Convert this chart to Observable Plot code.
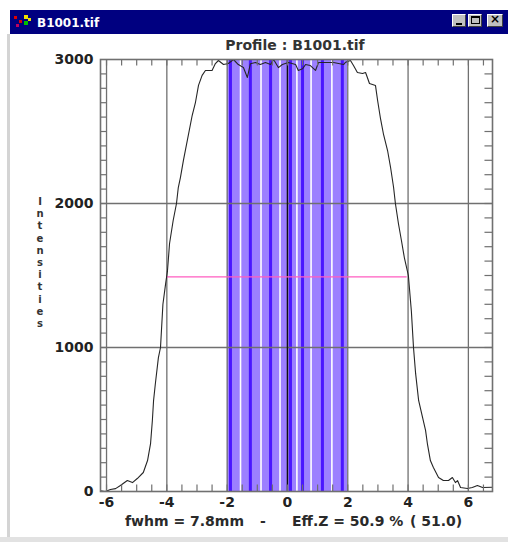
<!DOCTYPE html>
<html>
<head>
<meta charset="utf-8">
<script src="https://cdn.jsdelivr.net/npm/d3@7"></script>
<script src="https://cdn.jsdelivr.net/npm/@observablehq/plot@0.6"></script>
<style>
  html, body { margin: 0; padding: 0; background: #fff; }
  #wrap { position: relative; width: 508px; height: 542px; overflow: hidden; background: #fff; font-family: "DejaVu Sans", sans-serif; }
  .abs { position: absolute; }
  .btn { position: absolute; top: 14px; width: 14px; height: 13px; background: #c0c0c0;
         border-top: 1px solid #fff; border-left: 1px solid #fff; border-right: 1px solid #404040; border-bottom: 1px solid #404040; box-sizing: border-box; }
  .txt { position: absolute; font: bold 14px "DejaVu Sans", sans-serif; color: #2a2a2a; white-space: pre; line-height: 16px; }
</style>
</head>
<body>
<div id="wrap">
  <!-- window chrome -->
  <div class="abs" style="left:10px;top:10px;width:498px;height:24px;background:#000080;"></div>
  <div class="abs" style="left:14px;top:16px;width:3px;height:3px;background:#e00000;"></div>
  <div class="abs" style="left:19px;top:20px;width:3px;height:3px;background:#e00000;"></div>
  <div class="abs" style="left:24px;top:15px;width:4px;height:4px;background:#f0e000;"></div>
  <div class="abs" style="left:24px;top:21px;width:4px;height:4px;background:#00c000;"></div>
  <div class="abs" style="left:28px;top:18px;width:3px;height:3px;background:#f0e000;"></div>
  <div class="abs" style="left:16px;top:24px;width:3px;height:3px;background:#c00060;"></div>
  <div class="abs" style="left:37px;top:15px;color:#fff;font:bold 12px 'DejaVu Sans', sans-serif;line-height:16px;">B1001.tif</div>
  <div class="btn" style="left:452px;"><div class="abs" style="left:3px;top:8px;width:6px;height:2px;background:#000;"></div></div>
  <div class="btn" style="left:468px;"><div class="abs" style="left:2px;top:1px;width:9px;height:8px;border:1px solid #000;border-top-width:2px;box-sizing:border-box;"></div></div>
  <div class="btn" style="left:487px;width:16px;"><div class="abs" style="left:2px;top:-3px;font:bold 12px 'DejaVu Sans';color:#000;">×</div></div>
  <div class="abs" style="left:7px;top:34px;width:3px;height:508px;background:#d4d4d4;"></div>
  <div class="abs" style="left:0px;top:537px;width:508px;height:5px;background:#e2e2e2;"></div>

  <div id="chart" class="abs" style="left:0;top:0;"></div>

  <div class="txt" style="left:0;width:590px;top:37px;text-align:center;color:#333;">Profile : B1001.tif</div>
  <div class="abs" id="ytitle" style="left:33px;top:196px;width:14px;text-align:center;font:bold 10px 'DejaVu Sans', sans-serif;line-height:12.2px;color:#333;"></div>
  <div class="txt" style="left:125px;top:513px;">fwhm = 7.8mm</div>
  <div class="txt" style="left:260px;top:513px;">-</div>
  <div class="txt" style="left:292px;top:513px;">Eff.Z = 50.9 %</div>
  <div class="txt" style="left:410px;top:513px;">( 51.0)</div>
</div>
<script>
// ---- data ----
const xDomain = [-6.2, 6.8];
const yDomain = [0, 3000];
const xTicks = [-6, -4, -2, 0, 2, 4, 6];
const yTicks = [0, 1000, 2000, 3000];
const gridX = [-6, -4, -2, 2, 4, 6];
const gridY = [1000, 2000];
const centerLine = [0];
const minorX = [-6, -5.5, -5, -4.5, -4, -3.5, -3, -2.5, -2, -1.5, -1, -0.5, 0, 0.5, 1, 1.5, 2, 2.5, 3, 3.5, 4, 4.5, 5, 5.5, 6, 6.5];
const minorY = [100, 200, 300, 400, 500, 600, 700, 800, 900, 1000, 1100, 1200, 1300, 1400, 1500, 1600, 1700, 1800, 1900, 2000,
                2100, 2200, 2300, 2400, 2500, 2600, 2700, 2800, 2900];
const yTitle = "Intensities";

// profile curve
const profileX = [-6.2, -6.04, -5.87, -5.70, -5.54, -5.31, -5.14, -4.98, -4.78, -4.64, -4.54, -4.48, -4.44, -4.38, -4.28, -4.21,
  -4.13, -4.04, -3.98, -3.91, -3.79, -3.68, -3.62, -3.55, -3.45, -3.16, -3.05, -2.95, -2.83, -2.72, -2.50, -2.39, -2.29, -2.12,
  -1.96, -1.79, -1.63, -1.46, -1.33, -1.23, -1.06, -0.90, -0.73, -0.56, -0.46, -0.30, -0.17, 0.03, 0.27, 0.36, 0.50, 0.60, 0.76,
  0.93, 1.03, 1.53, 1.86, 1.93, 2.09, 2.19, 2.32, 2.49, 2.59, 2.65, 2.72, 2.92, 2.99, 3.08, 3.18, 3.32, 3.42, 3.52, 3.58, 3.68,
  3.78, 3.88, 4.01, 4.11, 4.18, 4.25, 4.35, 4.48, 4.58, 4.64, 4.74, 4.84, 5.01, 5.17, 5.34, 5.47, 5.57, 5.64, 5.74, 5.97, 6.13,
  6.30, 6.47, 6.80];
const profileY = [5, 0, 14, 20, 42, 76, 62, 90, 132, 215, 333, 493, 632, 750, 930, 1000,
  1300, 1444, 1530, 1722, 1882, 2000, 2111, 2180, 2300, 2611, 2703, 2820, 2890, 2924, 2924, 2972, 2993, 2965,
  2972, 3000, 2965, 2944, 2875, 2970, 2979, 2965, 2979, 2965, 3000, 2944, 2965, 2979, 2965, 2924, 2935, 2965, 2958,
  2924, 2979, 2979, 2965, 2981, 2993, 2958, 2910, 2903, 2910, 2875, 2833, 2819, 2715, 2597, 2486, 2368, 2250, 2111, 2000, 1861,
  1743, 1620, 1500, 1250, 1000, 820, 632, 514, 424, 333, 215, 167, 97, 76, 76, 97, 62, 76, 28, 21, 28,
  42, 28, 30];

// collimator strips (edges) and leaf lines
const stripEdges = [-2.01, -1.54, -0.86, -0.23, 0.33, 0.80, 1.49, 2.02];
const leafLines = [-1.89, -1.23, -0.56, 0.10, 0.50, 1.16, 1.82];

// FWHM level line
const fwhmLevel = [1490];
const fwhmFrom = -3.98;
const fwhmTo = 3.97;

// ---- build ----
const profile = profileX.map((x, i) => ({x, y: profileY[i]}));
const strips = stripEdges.slice(0, -1).map((e, i) => ({x1: e, x2: stripEdges[i + 1]}));

const chart = Plot.plot({
  width: 508,
  height: 542,
  marginLeft: 100,
  marginRight: 16,
  marginTop: 59,
  marginBottom: 51,
  x: {domain: xDomain, axis: null, label: null},
  y: {domain: yDomain, axis: null, label: null},
  style: {fontFamily: "DejaVu Sans, sans-serif", fontSize: "14px", fontWeight: "bold", background: "transparent", color: "#222", overflow: "visible"},
  marks: [
    Plot.rect(strips, {x1: "x1", x2: "x2", y1: () => yDomain[0], y2: () => yDomain[1], fill: "#9c80ff", insetLeft: 0.8, insetRight: 0.8}),
    Plot.ruleX(leafLines, {stroke: "#4a16ff", strokeWidth: 3}),
    Plot.ruleX(gridX, {stroke: "#707070", strokeWidth: 1.3}),
    Plot.ruleY(gridY, {stroke: "#707070", strokeWidth: 1.3}),
    Plot.ruleX(centerLine, {stroke: "#111", strokeWidth: 1.5}),
    Plot.ruleY(fwhmLevel, {x1: () => fwhmFrom, x2: () => fwhmTo, stroke: "#ff5cc0", strokeWidth: 1.3}),
    Plot.line(profile, {x: "x", y: "y", stroke: "#262626", strokeWidth: 1.1}),
    Plot.ruleY(minorY, {x1: () => xDomain[0], x2: () => xDomain[0] + 0.2, stroke: "#707070", strokeWidth: 1.2}),
    Plot.ruleY(minorY, {x1: () => xDomain[1] - 0.25, x2: () => xDomain[1], stroke: "#707070", strokeWidth: 1.2}),
    Plot.ruleX(minorX, {y1: () => yDomain[1] - 45, y2: () => yDomain[1], stroke: "#707070", strokeWidth: 1.2}),
    Plot.ruleX(minorX, {y1: () => yDomain[0], y2: () => yDomain[0] + 45, stroke: "#707070", strokeWidth: 1.2}),
    Plot.frame({stroke: "#707070", strokeWidth: 1.6}),
    Plot.axisY(yTicks, {tickSize: 0, tickPadding: 7, label: null, tickFormat: d => String(d), fill: "#222", fontSize: 14, fontWeight: "bold"}),
    Plot.axisX(xTicks, {tickSize: 0, tickPadding: 6, label: null, tickFormat: d => String(d), fill: "#222", fontSize: 14, fontWeight: "bold"})
  ]
});
document.getElementById("chart").appendChild(chart);
document.getElementById("ytitle").innerHTML = yTitle.split("").map(c => `<div>${c}</div>`).join("");
</script>
</body>
</html>
